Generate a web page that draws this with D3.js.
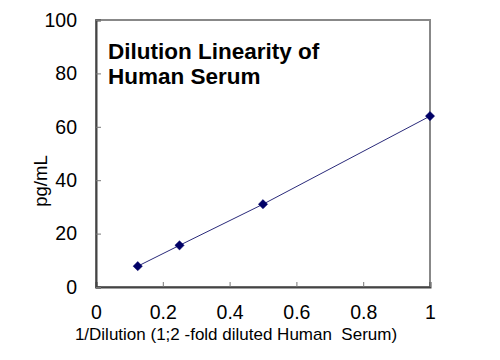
<!DOCTYPE html>
<html><head><meta charset="utf-8">
<script src="https://cdn.jsdelivr.net/npm/d3@7"></script>
<style>body{margin:0;background:#fff}text{font-family:"Liberation Sans",Arial,sans-serif}</style>
</head><body><svg id="c" width="500" height="360"></svg>
<script>
const xValues = [0.125, 0.25, 0.5, 1];
const yValues = [7.8, 15.6, 31, 64];
const xTicks = [0, 0.2, 0.4, 0.6, 0.8, 1];
const yTicks = [0, 20, 40, 60, 80, 100];
const titleLines = ["Dilution Linearity of", "Human Serum"];

const svg = d3.select("#c");
const L = 96, R = 430, T = 20, B = 287;
const x = d3.scaleLinear().domain([0, 1]).range([L, R]);
const y = d3.scaleLinear().domain([0, 100]).range([B, T]);

// frame
svg.append("rect").attr("x", L).attr("y", T).attr("width", R - L).attr("height", B - T)
  .attr("fill", "none").attr("stroke", "#888").attr("stroke-width", 2);

const xa = svg.append("g").attr("transform", `translate(0,${B})`)
  .call(d3.axisBottom(x).tickValues(xTicks).tickSize(-5).tickPadding(18).tickFormat(d3.format("")));
const ya = svg.append("g").attr("transform", `translate(${L},0)`)
  .call(d3.axisLeft(y).tickValues(yTicks).tickSize(-5).tickPadding(19));
[xa, ya].forEach(g => {
  g.select(".domain").attr("stroke", "#444").attr("stroke-width", 2);
  g.selectAll(".tick line").attr("stroke", "#777");
  g.selectAll(".tick text").attr("fill", "#000").attr("font-size", 19.5)
    .attr("font-family", '"Liberation Sans",Arial,sans-serif');
});

const pts = xValues.map((v, i) => [x(v), y(yValues[i])]);
svg.append("path").attr("d", d3.line()(pts)).attr("fill", "none")
  .attr("stroke", "#2a2a7a").attr("stroke-width", 1);
svg.selectAll(".m").data(pts).enter().append("path")
  .attr("transform", d => `translate(${d[0]},${d[1]})`)
  .attr("d", d3.symbol(d3.symbolDiamond2, 55)())
  .attr("fill", "#000066").attr("stroke", "#000066").attr("stroke-width", 0.5);

svg.append("text").attr("x", 236).attr("y", 340).attr("text-anchor", "middle")
  .attr("font-size", 17).attr("xml:space", "preserve")
  .text("1/Dilution (1;2 -fold diluted Human  Serum)");
svg.append("text").attr("transform", "translate(47,181) rotate(-90)").attr("text-anchor", "middle")
  .attr("font-size", 18.5).text("pg/mL");

svg.selectAll(".t").data(titleLines).enter().append("text")
  .attr("x", 108).attr("y", (d, i) => 59 + i * 24.5)
  .attr("font-size", 22.5).attr("font-weight", "bold").text(d => d);
</script></body></html>
